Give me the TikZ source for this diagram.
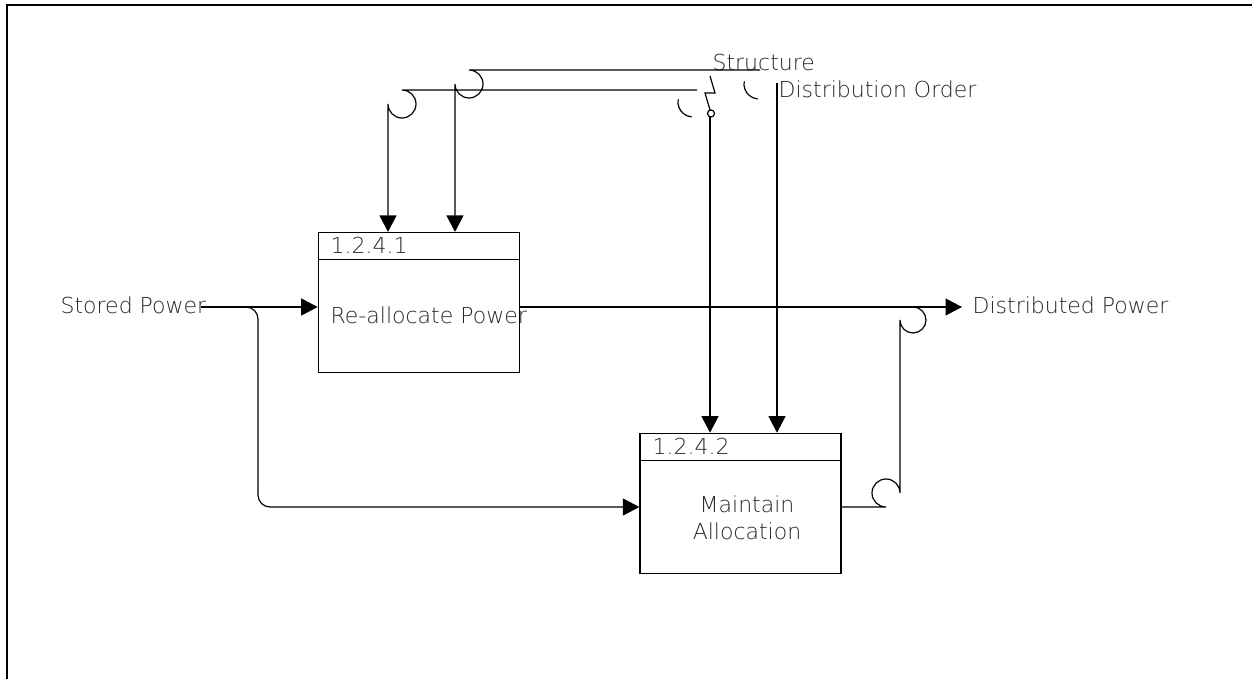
\documentclass[tikz,border=0pt]{standalone}
\usepackage{fontspec}
\setmainfont{DejaVu Sans ExtraLight}
\usetikzlibrary{arrows.meta}

\begin{document}
\begin{tikzpicture}[x=1pt,y=-1pt,line width=1.2pt,
  fnbox/.style={draw,minimum width=201pt,minimum height=140pt,inner sep=0pt},
  lbl/.style={inner sep=0pt,text=black!85,font=\fontsize{22}{26.6}\selectfont},
  flow/.style={-{Triangle[length=16.5pt,width=17pt]}}]
\useasboundingbox (0,0) rectangle (1252,679);
\draw[line width=2pt] (6.5,679) -- (6.5,5) -- (1252,5);
% boxes
\node[fnbox] (b1) at (418.8,302.5) {};
\node[fnbox] (b2) at (740.5,503.3) {};
\draw (b1.north west) ++(0,27.7) -- ++(201,0);
\draw (b2.north west) ++(0,27.7) -- ++(201,0);
\node[lbl,anchor=base west] (n1) at (330,253) {1.2.4.1};
\node[lbl,anchor=base west] (t1) at (330,323) {Re-allocate Power};
\node[lbl,anchor=base west] (n2) at (652,454) {1.2.4.2};
\node[lbl,align=center] (t2) at (747,518) {Maintain\\Allocation};
% labels
\node[lbl,anchor=base west] (sp) at (60,313) {Stored Power};
\node[lbl,anchor=base west] (dp) at (972,313) {Distributed Power};
\node[lbl,anchor=base west] (st) at (712,71) {Structure};
\node[lbl,anchor=base west] (do) at (778,98) {Distribution Order};
\coordinate (fork) at (244,307);
\coordinate (dptip) at (962,307);
\coordinate (stA) at (760,70);
\coordinate (stB) at (697,90);
\coordinate (stZ) at (710,76);
\coordinate (dotop) at (777,83);
% inputs
\draw[flow] ([xshift=-6pt]sp.east|-dptip) -- (b1.west|-dptip);
\draw[flow,rounded corners=12pt] (fork) -- (258,307) -- (258,507) -- (b2.west|-0,507);
% outputs
\draw[flow] (b1.east|-dptip) -- (dptip);
\draw (b2.east|-0,507) -- (886,507) arc[start angle=-90,end angle=-360,radius=14pt]
  -- (900,320) arc[start angle=180,end angle=450,radius=13pt];
% controls
\draw[flow] (stA) -- (469,70) arc[start angle=90,end angle=-180,radius=14pt] -- (b1.north-|455,0);
\draw[flow] (stB) -- (402,90) arc[start angle=90,end angle=-180,radius=14pt] -- (b1.north-|388,0);
\draw (stZ) -- (715,93) -- (705,93) -- (710,110);
\draw (711,113.5) circle[radius=3.5pt];
\draw[flow] (710,117) -- (b2.north-|710,0);
\draw[flow] (dotop) -- (b2.north-|dotop);
\draw (678.2,99.4) arc[start angle=170,end angle=265,radius=15pt];
\draw (744.2,81.4) arc[start angle=170,end angle=265,radius=15pt];
\end{tikzpicture}
\end{document}
